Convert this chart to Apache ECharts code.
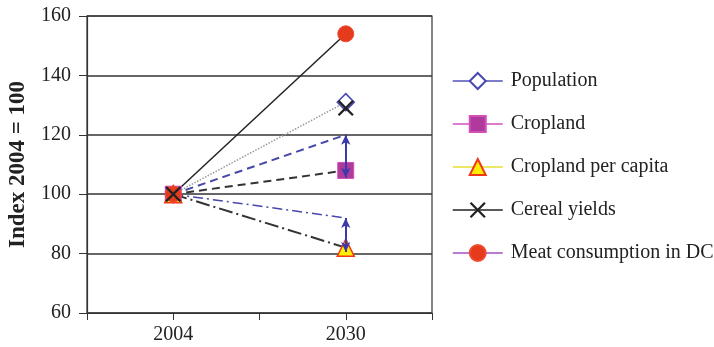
<!DOCTYPE html>
<html><head><meta charset="utf-8">
<script src="https://cdn.jsdelivr.net/npm/echarts@6/dist/echarts.min.js"></script>
<style>html,body{margin:0;padding:0;background:#fff}#c{width:714px;height:347px}</style>
</head><body><div id="c"></div>
<script>
const years = ['2004', '2030'];
const xSlots = ['', years[0], ' ', years[1], '  '];
const yMin = 60, yMax = 160, yStep = 20;
const names = ['Population', 'Cropland', 'Cropland per capita', 'Cereal yields', 'Meat consumption in DC'];
const population = [100, 131];
const cropland = [100, 108];
const croplandPerCapita = [100, 82];
const cerealYields = [100, 129];
const meatConsumption = [100, 154];
const croplandScenario = [100, 120];
const perCapitaScenario = [100, 92];
const arrowCropland = [120, 105.5];
const arrowPerCapita = [92, 80.5];

const FONT = 'Liberation Serif';
const pairs = v => years.map((y, i) => [y, v[i]]);

let lineId = 0;
function plotLine(vals, color, width, type) {
  return {
    type: 'line', name: '_l' + (lineId++), data: pairs(vals), symbol: 'none',
    lineStyle: { color: color, width: width, type: type }, z: 2, silent: true
  };
}
function markerSeries(name, vals, symbol, size, itemStyle, z) {
  return {
    type: 'line', name: name, data: pairs(vals), symbol: symbol, symbolSize: size,
    showSymbol: true, lineStyle: { opacity: 0, width: 0 }, itemStyle: itemStyle, z: z || 4
  };
}
const X_PATH = 'path://M0,1 L1,0 L5,4 L9,0 L10,1 L6,5 L10,9 L9,10 L5,6 L1,10 L0,9 L4,5 Z';

const legendLineColors = ['#5050b8', '#d050c0', '#e6e030', '#222222', '#a050c0'];

const option = {
  animation: false,
  backgroundColor: '#fff',
  grid: { left: 87, right: 282, top: 16, bottom: 34, show: true, borderColor: '#333', borderWidth: 1.2 },
  xAxis: {
    type: 'category', data: xSlots, boundaryGap: false,
    axisLine: { lineStyle: { color: '#333', width: 1.2 } },
    axisTick: { show: true, interval: 0, length: 7, lineStyle: { color: '#333' } },
    axisLabel: { interval: 0, fontFamily: FONT, fontSize: 20, color: '#222', margin: 12 },
    splitLine: { show: false }
  },
  yAxis: {
    type: 'value', min: yMin, max: yMax, interval: yStep,
    name: 'Index 2004 = 100', nameLocation: 'middle', nameGap: 57,
    nameTextStyle: { fontFamily: FONT, fontSize: 23, fontWeight: 'bold', color: '#222' },
    axisLine: { show: true, lineStyle: { color: '#333', width: 1.2 } },
    axisTick: { show: true, length: 8, lineStyle: { color: '#333' } },
    axisLabel: { fontFamily: FONT, fontSize: 20, color: '#222', margin: 16 },
    splitLine: { show: true, lineStyle: { color: '#333', width: 1.5 } }
  },
  legend: {
    orient: 'vertical', left: 447, top: 66, itemWidth: 50, itemHeight: 20, itemGap: 23,
    textStyle: { fontFamily: FONT, fontSize: 20, color: '#222', padding: [0, 0, 0, 3] },
    data: names.map((n, i) => ({ name: n, lineStyle: { color: legendLineColors[i], width: 1.5, opacity: 1, type: 'solid' } }))
  },
  series: [
    plotLine(meatConsumption, '#222', 1.5, 'solid'),
    plotLine(population, '#999', 1.5, 'dotted'),
    plotLine(croplandScenario, '#4848a8', 2, [8, 5]),
    plotLine(cropland, '#333', 2, [8, 5]),
    plotLine(perCapitaScenario, '#4848a8', 1.5, [10, 4, 2, 4]),
    plotLine(croplandPerCapita, '#333', 2, [14, 4, 2, 4]),
    markerSeries(names[0], population, 'diamond', 17, { color: '#fff', borderColor: '#4848b0', borderWidth: 1.5 }),
    markerSeries(names[1], cropland, 'rect', 16, { color: '#b03a9c', borderColor: '#d050b8', borderWidth: 1 }),
    markerSeries(names[2], croplandPerCapita, 'triangle', 17, { color: '#ffee00', borderColor: '#f03818', borderWidth: 1.5 }),
    markerSeries(names[4], meatConsumption, 'circle', 16, { color: '#e53a1c', borderColor: '#f04a30', borderWidth: 1 }),
    markerSeries(names[3], cerealYields, X_PATH, 16, { color: '#222' }, 5),
    {
      type: 'line', name: '_arrows', data: [], z: 6, silent: true,
      markLine: {
        silent: true, symbol: ['arrow', 'arrow'], symbolSize: [7, 10], label: { show: false },
        lineStyle: { color: '#3a3aa8', width: 2, type: 'solid' },
        data: [
          [{ coord: [years[1], arrowCropland[0]] }, { coord: [years[1], arrowCropland[1]] }],
          [{ coord: [years[1], arrowPerCapita[0]] }, { coord: [years[1], arrowPerCapita[1]] }]
        ]
      }
    }
  ]
};
const chart = echarts.init(document.getElementById('c'), null, { renderer: 'canvas' });
chart.setOption(option);
</script></body></html>
